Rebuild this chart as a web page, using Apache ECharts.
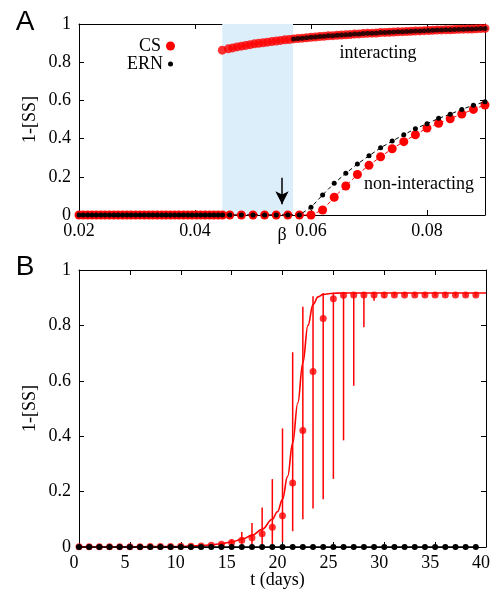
<!DOCTYPE html>
<html><head><meta charset="utf-8">
<script src="https://cdn.jsdelivr.net/npm/echarts@6/dist/echarts.min.js"></script>
<style>html,body{margin:0;padding:0;background:#fff}#c{width:492px;height:589px}</style>
</head><body><div id="c"></div>
<script>
// ---------- Panel A data ----------
const betaLow = [0.02,0.02075,0.0215,0.02225,0.023,0.02375,0.0245,0.02525,0.026,0.02675,0.0275,0.02825,0.029,0.02975,0.0305,0.03125,0.032,0.03275,0.0335,0.03425,0.035,0.03575,0.0365,0.03725,0.038,0.03875,0.0395,0.04025,0.041,0.04175,0.0425,0.04325,0.044,0.04475,
  0.046,0.048,0.05,0.052,0.054,0.056,0.058,0.06,0.062,0.064,0.066,0.068,0.07,0.072,0.074,0.076,0.078,0.08,0.082,0.084,0.086,0.088,0.09];
const csLow = [0,0,0,0,0,0,0,0,0,0,0,0,0,0,0,0,0,0,0,0,0,0,0,0,0,0,0,0,0,0,0,0,0,0,
  0,0,0,0,0,0,0,0,0.026,0.093,0.152,0.212,0.26,0.305,0.347,0.384,0.42,0.455,0.48,0.504,0.529,0.553,0.576];
const ernLow = [0,0,0,0,0,0,0,0,0,0,0,0,0,0,0,0,0,0,0,0,0,0,0,0,0,0,0,0,0,0,0,0,0,0,
  0,0,0,0,0,0,0,0.04,0.105,0.166,0.218,0.267,0.31,0.352,0.387,0.42,0.452,0.478,0.506,0.528,0.553,0.575,0.593];
const betaUp = [0.0447,0.04575,0.0465,0.04725,0.048,0.04875,0.0495,0.05025,0.051,0.05175,0.0525,0.05325,0.054,0.05475,0.0555,0.05625,
  0.057,0.05775,0.0585,0.05925,0.06,0.06075,0.0615,0.06225,0.063,0.06375,0.0645,0.06525,0.066,0.06675,0.0675,0.06825,0.069,0.06975,
  0.0705,0.07125,0.072,0.07275,0.0735,0.07425,0.075,0.07575,0.0765,0.07725,0.078,0.07875,0.0795,0.08025,0.081,0.08175,0.0825,0.08325,
  0.084,0.08475,0.0855,0.08625,0.087,0.08775,0.0885,0.08925,0.09];
const csUp = [0.863,0.870,0.875,0.880,0.884,0.888,0.892,0.896,0.899,0.902,0.905,0.908,0.911,0.914,0.917,0.919,
  0.922,0.924,0.926,0.928,0.930,0.932,0.934,0.936,0.938,0.939,0.941,0.942,0.944,0.945,0.947,0.948,0.950,0.951,
  0.952,0.953,0.955,0.956,0.957,0.958,0.959,0.960,0.961,0.962,0.963,0.964,0.965,0.966,0.967,0.968,0.969,0.970,
  0.970,0.971,0.972,0.973,0.974,0.974,0.975,0.976,0.977];
const ernUp = [null,null,null,null,null,null,null,null,null,null,null,null,null,null,null,null,
  0.922,0.924,0.926,0.928,0.930,0.932,0.934,0.936,0.938,0.939,0.941,0.942,0.944,0.945,0.947,0.948,0.950,0.951,
  0.952,0.953,0.955,0.956,0.957,0.958,0.959,0.960,0.961,0.962,0.963,0.964,0.965,0.966,0.967,0.968,0.969,0.970,
  0.970,0.971,0.972,0.973,0.974,0.974,0.975,0.976,0.977];
const bistableRange = [0.0447, 0.0569];
const arrowBeta = 0.055, arrowFrom = 0.195, arrowTo = 0.056;
const xTicksA = {min: 0.02, max: 0.09, interval: 0.02};

// ---------- Panel B data ----------
const tDays = [0,1,2,3,4,5,6,7,8,9,10,11,12,13,14,15,16,17,18,19,20,21,22,23,24,25,26,27,28,29,30,31,32,33,34,35,36,37,38,39];
const csMean = [0.001,0.001,0.001,0.001,0.001,0.001,0.001,0.002,0.002,0.002,0.003,0.003,
  0.004,0.006,0.01,0.016,0.024,0.033,0.048,0.071,0.113,0.231,0.421,0.634,0.825,0.896,0.909,
  0.91,0.91,0.91,0.91,0.91,0.91,0.91,0.91,0.91,0.91,0.91,0.91,0.91];
const csLo = [0.001,0.001,0.001,0.001,0.001,0.001,0.001,0.002,0.002,0.002,0.003,0.003,0.004,0.006,
  0.005,0.006,0.012,0.01,0.01,0.008,0.018,0.057,0.1,0.139,0.172,0.246,0.385,0.582,0.793,0.889,0.9,
  0.905,0.905,0.905,0.905,0.905,0.905,0.905,0.905,0.905];
const csHi = [0.001,0.001,0.001,0.001,0.001,0.001,0.001,0.002,0.002,0.002,0.003,0.003,0.004,0.006,
  0.016,0.027,0.054,0.087,0.143,0.245,0.428,0.703,0.867,0.905,0.916,
  0.918,0.918,0.918,0.918,0.918,0.918,0.918,0.918,0.918,0.918,0.918,0.918,0.918,0.918,0.918];
const modelT = [0,2,4,6,8,10,11,12,13,14,15,16,17,18,19,19.5,20,20.5,21,21.5,22,22.5,23,23.5,24,25,26,28,30,35,40];
const modelY = [0,0,0.001,0.001,0.002,0.002,0.003,0.005,0.008,0.012,0.018,0.028,0.042,0.064,0.1,0.127,0.172,0.255,0.375,0.52,0.665,0.80,0.875,0.903,0.912,0.916,0.917,0.917,0.917,0.917,0.917];
const ernMean = [0,0,0,0,0,0,0,0,0,0,0,0,0,0,0,0,0,0,0,0,0,0,0,0,0,0,0,0,0,0,0,0,0,0,0,0,0,0,0,0];
const xTicksB = {min: 0, max: 40, interval: 5};
const yTicks = {min: 0, max: 1, interval: 0.2};

const zip = (xs, ys) => xs.map((x, i) => [x, ys[i]]).filter(p => p[1] !== null);
const zip3 = (xs, a, b) => xs.map((x, i) => [x, a[i], b[i]]);

const SERIF = "'Liberation Serif','Times New Roman',serif";
const RED = '#ff0000', BLACK = '#000000';
const lbl = {fontFamily: SERIF, fontSize: 18, color: BLACK};

function xAx(gi, pos, t, showLabel, extra) {
  return Object.assign({
    type: 'value', gridIndex: gi, position: pos, min: t.min, max: t.max, interval: t.interval,
    nameMoveOverlap: false,
    axisLine: {show: true, onZero: false, lineStyle: {color: BLACK, width: 1}},
    axisTick: {show: true, inside: true, length: 5, lineStyle: {color: BLACK}},
    axisLabel: Object.assign({show: showLabel, margin: 7}, lbl),
    splitLine: {show: false}
  }, extra || {});
}
function yAx(gi, pos, showLabel, extra) {
  return Object.assign({
    type: 'value', gridIndex: gi, position: pos, min: yTicks.min, max: yTicks.max, interval: yTicks.interval,
    nameMoveOverlap: false,
    axisLine: {show: true, onZero: false, lineStyle: {color: BLACK, width: 1}},
    axisTick: {show: true, inside: true, length: 5, lineStyle: {color: BLACK}},
    axisLabel: Object.assign({show: showLabel, margin: 8}, lbl),
    splitLine: {show: false}
  }, extra || {});
}

const chart = echarts.init(document.getElementById('c'), null, {renderer: 'canvas'});
chart.setOption({
  animation: false,
  backgroundColor: '#fff',
  grid: [
    {left: 79, top: 24, width: 406, height: 191, containLabel: false, outerBoundsMode: 'none'},
    {left: 79, top: 270, width: 407, height: 277, containLabel: false, outerBoundsMode: 'none'}
  ],
  legend: [
    {data: [{name: 'CS'}], orient: 'horizontal', align: 'right', right: 317, top: 37, padding: 0,
     icon: 'circle', itemWidth: 9, itemHeight: 9, selectedMode: false, textStyle: lbl},
    {data: [{name: 'ERN'}], orient: 'horizontal', align: 'right', right: 319, top: 55, padding: 0,
     icon: 'circle', itemWidth: 5, itemHeight: 5, selectedMode: false, textStyle: lbl}
  ],
  xAxis: [
    xAx(0, 'bottom', xTicksA, true, {name: 'β', nameLocation: 'middle', nameGap: 11, nameTextStyle: lbl,
      axisLabel: Object.assign({show: true, margin: 7, showMaxLabel: false, formatter: v => v.toFixed(2)}, lbl)}),
    xAx(0, 'top', xTicksA, false),
    xAx(1, 'bottom', xTicksB, true, {name: 't (days)', nameLocation: 'middle', nameGap: 24,
      nameTextStyle: Object.assign({padding: [0, 10, 0, 0]}, lbl),
      axisLabel: Object.assign({show: true, margin: 7, padding: [0, 10, 0, 0]}, lbl)}),
    xAx(1, 'top', xTicksB, false)
  ],
  yAxis: [
    yAx(0, 'left', true, {name: '1-[SS]', nameLocation: 'middle', nameGap: 40, nameTextStyle: lbl}),
    yAx(0, 'right', false),
    yAx(1, 'left', true, {name: '1-[SS]', nameLocation: 'middle', nameGap: 40, nameTextStyle: lbl}),
    yAx(1, 'right', false)
  ],
  graphic: [
    {type: 'text', x: 25, y: 22, style: {text: 'A', font: "28px 'Liberation Sans', Arial, sans-serif", fill: BLACK, textAlign: 'center', textVerticalAlign: 'middle'}},
    {type: 'text', x: 25, y: 267, style: {text: 'B', font: "28px 'Liberation Sans', Arial, sans-serif", fill: BLACK, textAlign: 'center', textVerticalAlign: 'middle'}},
    {type: 'text', x: 378, y: 53, style: {text: 'interacting', font: "18px " + SERIF, fill: BLACK, textAlign: 'center', textVerticalAlign: 'middle'}},
    {type: 'text', x: 419, y: 184, style: {text: 'non-interacting', font: "18px " + SERIF, fill: BLACK, textAlign: 'center', textVerticalAlign: 'middle'}}
  ],
  series: [
    {type: 'line', name: 'shade', xAxisIndex: 0, yAxisIndex: 0, data: [], z: 1, silent: true,
     markArea: {silent: true, itemStyle: {color: '#ddeefb'}, data: [[{xAxis: bistableRange[0]}, {xAxis: bistableRange[1]}]]},
     markLine: {silent: true, symbol: ['none', 'arrow'], symbolSize: [10, 13],
       lineStyle: {color: BLACK, width: 1.5, type: 'solid'}, label: {show: false},
       data: [[{coord: [arrowBeta, arrowFrom]}, {coord: [arrowBeta, arrowTo]}]]}},
    {type: 'line', name: 'CS', xAxisIndex: 0, yAxisIndex: 0, data: zip(betaLow, csLow), z: 2,
     symbol: 'circle', symbolSize: 9, showSymbol: true, showAllSymbol: true,
     itemStyle: {color: RED}, lineStyle: {color: RED, width: 1, type: [4, 3]}},
    {type: 'scatter', name: 'CS', xAxisIndex: 0, yAxisIndex: 0, data: zip(betaUp, csUp), z: 2,
     symbol: 'circle', symbolSize: 9, itemStyle: {color: RED}},
    {type: 'line', name: 'ERN', xAxisIndex: 0, yAxisIndex: 0, data: zip(betaLow, ernLow), z: 3,
     symbol: 'circle', symbolSize: 5, showSymbol: true, showAllSymbol: true,
     itemStyle: {color: BLACK}, lineStyle: {color: BLACK, width: 1, type: [4, 3]}},
    {type: 'scatter', name: 'ERN', xAxisIndex: 0, yAxisIndex: 0, data: zip(betaUp, ernUp), z: 3,
     symbol: 'circle', symbolSize: 5, itemStyle: {color: BLACK}},

    {type: 'custom', name: 'CS-err', xAxisIndex: 2, yAxisIndex: 2, z: 2,
     data: zip3(tDays, csLo, csHi), encode: {x: 0, y: [1, 2]},
     renderItem: (params, api) => {
       const p1 = api.coord([api.value(0), api.value(1)]);
       const p2 = api.coord([api.value(0), api.value(2)]);
       return {type: 'line', shape: {x1: p1[0], y1: p1[1], x2: p2[0], y2: p2[1]},
         style: {stroke: RED, lineWidth: 1.5}};
     }},
    {type: 'line', name: 'CS-model', xAxisIndex: 2, yAxisIndex: 2, data: zip(modelT, modelY), z: 2,
     showSymbol: false, symbol: 'none', smooth: 0.4, smoothMonotone: 'x',
     lineStyle: {color: RED, width: 1.6}},
    {type: 'scatter', name: 'CS-data', xAxisIndex: 2, yAxisIndex: 2, data: zip(tDays, csMean), z: 3,
     symbol: 'circle', symbolSize: 7, itemStyle: {color: RED}},
    {type: 'line', name: 'ERN-data', xAxisIndex: 2, yAxisIndex: 2, data: zip(tDays, ernMean), z: 4,
     symbol: 'circle', symbolSize: 6, showSymbol: true, showAllSymbol: true,
     itemStyle: {color: BLACK}, lineStyle: {color: BLACK, width: 1.6}}
  ]
});
</script></body></html>
